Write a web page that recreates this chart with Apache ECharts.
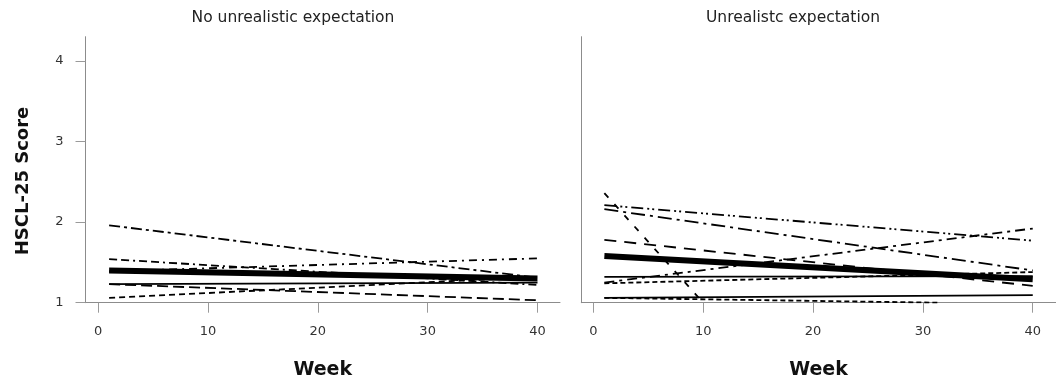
<!DOCTYPE html>
<html><head><meta charset="utf-8">
<script src="https://cdn.jsdelivr.net/npm/echarts@6/dist/echarts.min.js"></script>
<style>html,body{margin:0;padding:0;background:#fff}#c{width:1056px;height:390px}</style>
</head><body><div id="c"></div>
<script>
// ---- text ----
const panelTitles = ["No unrealistic expectation", "Unrealistc expectation"];
const yAxisTitle = "HSCL-25 Score";
const xAxisTitle = "Week";
const xTicks = [0, 10, 20, 30, 40];
const yTicks = [1, 2, 3, 4];

// ---- left panel: individual trajectories ----
const leftWeeks = [[1, 40], [1, 40], [1, 40], [1, 40], [1, 40], [1, 40]];
const leftScores = [[1.96, 1.31], [1.39, 1.55], [1.54, 1.22], [1.23, 1.25], [1.23, 1.03], [1.06, 1.32]];
const leftMeanWeeks = [1, 40];
const leftMeanScores = [1.40, 1.30];

// ---- right panel: individual trajectories ----
const rightWeeks = [[1, 10], [1, 40], [1, 40], [1, 40], [1, 40], [1, 40], [1, 40], [1, 40], [1, 31.5]];
const rightScores = [[2.36, 1.0], [2.21, 1.77], [2.16, 1.40], [1.78, 1.21], [1.25, 1.92], [1.32, 1.33], [1.24, 1.38], [1.06, 1.095], [1.06, 1.0]];
const rightMeanWeeks = [1, 40];
const rightMeanScores = [1.58, 1.29];

// ---- styles ----
const FONT = 'DejaVu Sans';
const leftDash = [[11, 4, 3, 4], [8, 5, 2, 5], [8, 4, 8, 4, 2, 4], 'solid', [11, 5], [6, 4]];
const rightDash = [[6, 9], [12, 4, 2, 3, 2, 4], [14, 5, 3, 5], [12, 8], [10, 5, 3, 5], 'solid', [5, 3], 'solid', [5, 3]];

function toPairs(ws, ss) { return ws.map((w, i) => [w, ss[i]]); }

const series = [];
function addPanel(weeks, scores, dashes, mw, ms, idx) {
  weeks.forEach((w, i) => {
    series.push({
      type: 'line', xAxisIndex: idx, yAxisIndex: idx, data: toPairs(w, scores[i]),
      symbol: 'none', silent: true,
      lineStyle: { color: '#000', width: 1.8, type: dashes[i] }
    });
  });
  series.push({
    type: 'line', xAxisIndex: idx, yAxisIndex: idx, data: toPairs(mw, ms),
    symbol: 'none', silent: true,
    lineStyle: { color: '#000', width: 6, type: 'solid' }
  });
}
addPanel(leftWeeks, leftScores, leftDash, leftMeanWeeks, leftMeanScores, 0);
addPanel(rightWeeks, rightScores, rightDash, rightMeanWeeks, rightMeanScores, 1);

function xAx(idx, min, max) {
  return {
    type: 'value', gridIndex: idx, min: min, max: max,
    name: xAxisTitle, nameLocation: 'middle', nameGap: 58,
    nameTextStyle: { fontFamily: FONT, fontWeight: 'bold', fontSize: 19, color: '#111' },
    axisLine: { show: true, onZero: false, lineStyle: { color: '#8c8c8c', width: 1 } },
    axisTick: { show: true, length: 10, customValues: xTicks, lineStyle: { color: '#9a9a9a' } },
    axisLabel: { customValues: xTicks, margin: 22, fontFamily: FONT, fontSize: 13, color: '#333' },
    splitLine: { show: false }
  };
}
function yAx(idx, showLabels) {
  return {
    type: 'value', gridIndex: idx, min: 1, max: 4.3,
    axisLine: { show: true, onZero: false, lineStyle: { color: '#8c8c8c', width: 1 } },
    axisTick: { show: showLabels, length: 10, customValues: yTicks, lineStyle: { color: '#9a9a9a' } },
    axisLabel: { show: showLabels, customValues: yTicks, margin: 22, fontFamily: FONT, fontSize: 13, color: '#333' },
    splitLine: { show: false }
  };
}

const chart = echarts.init(document.getElementById('c'), null, { renderer: 'canvas' });
chart.setOption({
  animation: false,
  backgroundColor: '#fff',
  grid: [
    { left: 85.5, top: 36.7, width: 474.5, height: 266 },
    { left: 581.3, top: 36.7, width: 474.5, height: 266 }
  ],
  xAxis: [xAx(0, -1.15, 42.05), xAx(1, -1.1, 42.1)],
  yAxis: [yAx(0, true), yAx(1, false)],
  series: series,
  graphic: [
    { type: 'text', x: 293, y: 18, style: { text: panelTitles[0], font: '15.5px "DejaVu Sans"', fill: '#222', align: 'center', verticalAlign: 'middle', textAlign: 'center', textVerticalAlign: 'middle' } },
    { type: 'text', x: 793, y: 18, style: { text: panelTitles[1], font: '15.5px "DejaVu Sans"', fill: '#222', align: 'center', verticalAlign: 'middle', textAlign: 'center', textVerticalAlign: 'middle' } },
    { type: 'text', x: 23, y: 181, rotation: Math.PI / 2, style: { text: yAxisTitle, font: 'bold 18px "DejaVu Sans"', fill: '#111', align: 'center', verticalAlign: 'middle', textAlign: 'center', textVerticalAlign: 'middle' } }
  ]
});
</script>
</body></html>
